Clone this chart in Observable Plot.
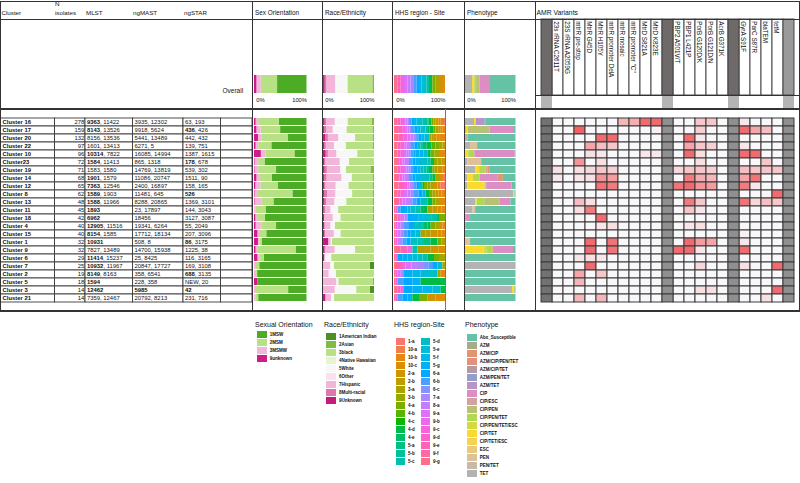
<!DOCTYPE html>
<html><head><meta charset="utf-8">
<script src="https://cdn.jsdelivr.net/npm/d3@7"></script>
<script src="https://cdn.jsdelivr.net/npm/@observablehq/plot@0.6"></script>
<style>
html,body{margin:0;padding:0;background:#fff;}
#root{position:relative;width:800px;height:483px;overflow:hidden;font-family:"Liberation Sans",Arial,sans-serif;color:#111;}
.lbl{position:absolute;white-space:nowrap;line-height:1;}
.ln{position:absolute;background:#333;}
</style></head><body><div id="root"></div>
<script>
// ---------------- DATA ----------------
const clusters = ["Cluster 16","Cluster 17","Cluster 20","Cluster 22","Cluster 10","Cluster23","Cluster 19","Cluster 14","Cluster 12","Cluster 8","Cluster 13","Cluster 11","Cluster 18","Cluster 4","Cluster 15","Cluster 1","Cluster 9","Cluster 6","Cluster 7","Cluster 2","Cluster 5","Cluster 3","Cluster 21"];
const nIsolates = [278,159,132,97,96,72,71,68,65,62,48,45,42,40,40,32,32,29,25,19,18,14,14];
const mlst = ["9363, 11422","8143, 13526","8156, 13536","1601, 13413","10314, 7822","1584, 11413","1583, 1580","1901, 1579","7363, 12546","1589, 1903","1588, 11966","1893","6962","12905, 11516","8154, 1585","10931","7827, 13489","11414, 15237","10932, 11967","8149, 8163","1594","12462","7359, 12467"];
const mlstBold = [1,1,0,0,1,1,0,1,1,1,1,1,1,1,1,1,0,1,1,1,1,1,0];
const ngmast = ["3935, 12302","9918, 5624","5441, 13489","6271, 5","16085, 14994","865, 1318","14769, 13819","11086, 20747","2400, 16897","11481, 645","8288, 20865","23, 17897","18456","19341, 6264","17712, 18134","508, 8","14700, 15938","25, 8425","20847, 17727","358, 6541","228, 358","5985","20792, 8213"];
const ngmastBold = [0,0,0,0,0,0,0,0,0,0,0,0,0,0,0,0,0,0,0,0,0,1,0];
const ngstar = ["63, 193","436, 426","442, 432","139, 751","1387, 1615","178, 678","539, 302","1511, 90","158, 165","526","1369, 3101","144, 3043","3127, 3087","55, 2049","207, 3096","86, 3175","1225, 38","116, 3165","169, 3108","688, 3135","NEW, 20","42","231, 716"];
const ngstarBold = [0,1,0,0,0,1,0,0,0,1,0,0,0,0,0,1,0,0,0,1,0,1,0];

// Sexual orientation (legend order)
const sexCats = ["1MSW","2MSM","3MSMW","9unknown"];
const sexMSW     = [.53,.5,.35,.67,.23,.8,.58,.66,.54,.27,.63,.78,.8,.58,.77,.85,.21,.81,.9,.94,.935,.35,.92];
const sexMSM     = [.39,.37,.5,.25,.55,.12,.34,.22,.33,.66,.23,.19,.13,.28,.14,.04,.72,.08,.08,.02,0,.63,.05];
const sexMSMW    = [.05,.08,.07,.05,.09,.07,.07,.07,.1,.065,.13,.03,.05,.11,.03,.03,.045,.045,.02,.04,0,.02,.03];
const sexUnknown = [.03,.045,.075,.03,.13,.01,.01,.045,.025,.01,.01,0,.025,.03,.065,.075,.03,.065,0,0,.065,0,0];
const sexOverall = [.56,.31,.084,.045];

// Race / ethnicity (legend order)
const raceCats = ["1American Indian","2Asian","3black","4Native Hawaiian","5White","6Other","7Hispanic","8Multi-racial","9Unknown"];
const raceAmInd    = [0,0,0,0,0,0,0,0,0,0,0,0,0,0,0,0,0,0,.08,0,0,.08,0];
const raceAsian    = [.05,.03,.03,.03,0,0,.07,.03,.03,.02,.03,.02,.03,.01,0,0,0,0,0,0,.03,0,0];
const raceBlack    = [.47,.51,.34,.53,.33,.49,.48,.41,.47,.41,.51,.68,.63,.76,.66,.83,.37,.84,.71,.75,.67,.27,.78];
const raceNH       = [0,0,0,0,0,0,0,0,0,0,0,0,0,0,0,0,0,0,0,0,0,0,0];
const raceWhite    = [.25,.27,.33,.23,.41,.18,.11,.2,.25,.33,.23,.15,.15,.085,.13,.02,.4,.12,.07,.14,.04,.42,.06];
const raceOther    = [0,0,0,0,0,0,0,0,0,0,0,0,0,0,0,0,0,0,0,0,0,0,0];
const raceHispanic = [.17,.125,.2,.16,.165,.28,.26,.29,.2,.16,.16,.1,.17,.12,.18,.05,.18,.02,.14,.11,.26,.23,.11];
const raceMulti    = [.03,.04,.05,.035,.045,.025,.045,.045,.025,.06,.03,.03,0,0,0,0,.015,0,0,0,0,0,0];
const raceUnknown  = [.03,.025,.045,.02,.05,.02,.03,.025,.02,.02,.03,.015,.02,.025,.03,.1,.03,.02,0,0,0,0,.045];
const raceOverall  = [0,.032,.49,0,.24,0,.174,.032,.032];

// HHS region - site (legend order)
const hhsCats = ["1-a","10-a","10-b","10-c","2-a","2-b","3-a","3-b","4-a","4-b","4-c","4-d","4-e","5-a","5-b","5-c","5-d","5-e","5-f","5-g","6-a","6-b","6-c","7-a","8-a","9-a","9-b","9-c","9-d","9-e","9-f","9-g"];
const hhsRows = [
 {"9-g":10,"9-e":10,"9-c":10,"9-a":5,"8-a":5,"7-a":5,"6-b":8,"6-a":7,"5-f":8,"5-e":7,"5-d":10,"5-c":8,"5-b":7,"4-e":4,"4-d":8,"4-a":6,"3-a":7,"2-a":8,"10-c":7,"10-b":10,"1-a":3},
 {"9-g":12,"9-e":12,"9-c":11,"9-a":5,"8-a":5,"7-a":5,"6-b":10,"6-a":10,"5-f":8,"5-e":7,"5-d":8,"5-c":7,"4-e":5,"4-d":10,"4-a":7,"3-a":8,"2-a":6,"10-c":6,"10-b":8},
 {"9-g":14,"9-e":13,"9-c":13,"9-a":9,"8-a":8,"7-a":8,"6-b":8,"6-a":7,"5-f":10,"5-e":10,"5-d":5,"3-a":5,"2-b":5,"2-a":10,"10-c":10,"10-b":15},
 {"9-g":10,"9-e":10,"9-c":10,"9-a":7,"8-a":7,"7-a":6,"6-b":10,"6-a":10,"5-d":8,"5-c":7,"4-e":10,"4-d":15,"4-b":12,"4-a":13,"3-a":8,"2-a":7},
 {"9-g":10,"9-e":10,"9-c":10,"9-a":7,"8-a":7,"7-a":6,"6-b":8,"6-a":7,"5-g":12,"5-f":12,"5-e":11,"4-d":10,"4-a":12,"3-a":13,"10-c":6,"10-b":12},
 {"9-g":9,"9-e":8,"9-c":8,"9-a":7,"8-a":7,"7-a":6,"6-b":10,"6-a":10,"5-f":13,"5-e":12,"5-d":10,"5-c":10,"4-d":10,"3-b":10,"3-a":12,"2-a":11},
 {"9-g":10,"9-e":10,"9-c":10,"9-a":7,"8-a":7,"7-a":6,"6-b":10,"6-a":10,"5-g":10,"5-d":9,"5-c":8,"5-b":8,"4-d":10,"4-a":7,"3-a":8,"2-a":8,"10-c":7,"10-b":8},
 {"9-g":9,"9-e":8,"9-c":8,"9-a":7,"8-a":7,"7-a":6,"6-b":10,"6-a":10,"5-f":13,"5-e":12,"5-d":9,"5-c":8,"5-b":8,"4-d":10,"3-a":10,"10-c":6,"10-b":6,"1-a":6},
 {"9-g":14,"9-e":13,"9-c":13,"9-a":7,"8-a":7,"7-a":6,"6-b":8,"6-a":7,"5-d":10,"4-d":5,"4-a":10,"3-b":10,"3-a":10,"2-a":10,"10-b":10,"1-a":13},
 {"9-g":10,"9-e":10,"9-c":10,"9-a":10,"8-a":10,"7-a":10,"6-b":13,"6-a":12,"5-f":10,"4-d":10,"4-a":10,"3-a":10,"2-a":9,"10-c":9,"10-b":10},
 {"9-g":9,"9-e":8,"9-c":8,"9-a":10,"8-a":10,"7-a":10,"6-b":13,"6-a":12,"5-d":10,"5-c":10,"4-d":15,"4-a":10,"3-a":10,"10-c":9,"10-b":9},
 {"9-g":5,"9-c":5,"6-b":10,"6-a":10,"5-g":10,"5-f":10,"5-d":15,"5-c":15,"4-e":10,"4-d":10,"3-a":15,"2-a":15,"10-c":12,"10-b":11},
 {"9-g":10,"9-c":10,"9-a":10,"7-a":10,"6-a":15,"5-g":15,"5-f":20,"5-d":20,"5-c":15,"4-d":8,"4-a":15},
 {"9-g":5,"9-c":5,"9-a":10,"7-a":10,"6-b":15,"6-a":15,"5-d":15,"5-c":15,"4-e":10,"4-d":10,"4-a":15,"3-a":10,"2-a":10,"10-b":8},
 {"9-g":5,"9-c":5,"9-a":10,"7-a":10,"6-b":10,"6-a":10,"5-f":15,"5-e":15,"3-a":15,"2-b":15,"2-a":20,"10-c":12,"10-b":11},
 {"9-g":5,"9-c":5,"9-a":8,"7-a":7,"6-b":12,"6-a":13,"5-d":20,"5-c":20,"5-a":20,"4-d":20,"4-a":12,"3-a":11},
 {"9-g":20,"9-e":20,"9-c":15,"5-c":15,"3-a":20,"2-b":20,"2-a":23,"10-c":20},
 {"9-g":5,"9-c":5,"6-a":15,"5-g":15,"5-f":15,"5-e":15,"5-d":15,"5-c":15,"4-d":20,"4-a":15,"3-a":18},
 {"9-g":12,"9-e":12,"9-c":11,"9-a":18,"8-a":19,"7-a":18,"6-c":13,"6-b":14,"6-a":13,"5-e":15,"3-a":8},
 {"9-g":5,"9-c":5,"9-a":10,"7-a":10,"5-g":25,"5-f":25,"5-e":25,"5-d":25,"3-a":10,"10-b":13},
 {"9-g":5,"9-c":5,"6-b":20,"6-a":25,"5-g":25,"4-d":73},
 {"9-g":10,"9-e":10,"9-c":10,"6-a":25,"5-g":30,"5-f":30,"5-e":25,"4-d":13},
 {"9-g":5,"9-c":5,"6-b":15,"6-a":15,"5-g":15,"4-d":20,"4-a":25,"2-a":25,"10-c":28}
];
const hhsOverall = {"9-g":10,"9-e":10,"9-c":10,"9-a":10,"8-a":10,"7-a":10,"6-b":8,"6-a":7,"5-f":8,"5-e":7,"5-d":8,"5-c":7,"4-d":10,"4-a":10,"3-a":10,"2-a":6,"10-c":6,"10-b":6};

// Phenotype (legend order)
const phenoCats = ["Abx_Susceptible","AZM","AZM/CIP","AZM/CIP/PEN/TET","AZM/CIP/TET","AZM/PEN/TET","AZM/TET","CIP","CIP/ESC","CIP/PEN","CIP/PEN/TET","CIP/PEN/TET/ESC","CIP/TET","CIP/TET/ESC","ESC","PEN","PEN/TET","TET"];
const phenoRows = [
 {"TET":18,"CIP/TET":3,"AZM/TET":17,"AZM/PEN/TET":3,"Abx_Susceptible":59},
 {"TET":2,"CIP/TET":3,"CIP/PEN":44,"CIP":48,"Abx_Susceptible":3},
 {"TET":5,"Abx_Susceptible":95},
 {"TET":10,"PEN":14,"Abx_Susceptible":76},
 {"CIP/TET":6.5,"CIP/PEN/TET":12,"CIP":80,"Abx_Susceptible":1.5},
 {"TET":5,"PEN":27,"Abx_Susceptible":68},
 {"TET":20,"CIP/TET":8,"CIP/PEN/TET":13,"CIP/ESC":4,"AZM/CIP":3,"Abx_Susceptible":52},
 {"TET":5,"CIP/TET":11,"CIP/PEN/TET":13,"CIP":36,"AZM/CIP":10,"Abx_Susceptible":25},
 {"TET":5,"CIP/TET":34,"CIP/PEN/TET":3,"CIP":50,"Abx_Susceptible":8},
 {"TET":96,"CIP/TET":2,"Abx_Susceptible":2},
 {"TET":20,"CIP/TET":3,"CIP/PEN/TET":15,"CIP/PEN":31,"CIP":21,"Abx_Susceptible":10},
 {"TET":15,"PEN":5,"Abx_Susceptible":80},
 {"TET":2,"CIP":8,"Abx_Susceptible":90},
 {"TET":2,"Abx_Susceptible":98},
 {"Abx_Susceptible":100},
 {"PEN":10,"Abx_Susceptible":90},
 {"CIP/TET":37,"CIP/PEN/TET/ESC":5,"CIP/PEN/TET":13,"CIP":40,"Abx_Susceptible":5},
 {"Abx_Susceptible":100},
 {"TET":99,"Abx_Susceptible":1},
 {"Abx_Susceptible":100},
 {"Abx_Susceptible":100},
 {"TET":93,"CIP/TET":5,"Abx_Susceptible":2},
 {"Abx_Susceptible":100}
];
const phenoOverall = {"TET":14,"CIP/TET":4.5,"CIP/PEN/TET":3.5,"CIP/PEN":6.5,"CIP":21,"Abx_Susceptible":50.5};

// AMR variants (share of isolates, 0-1)
const amrVariants = ["23s rRNA C2611T","23S rRNA A2059G","mtrR pre-stop","MtrR G45D","MtrR H105Y","mtrR promoter DelA","mtrR mosaic","mtrR promoter \"C\"","MtrD S821A","MtrD K823E","PBP2 A501V/T","PBP1 L421P","PorB G120D/K","PorB G121D/N","AcrB G371K","GyrA S91F","ParC S87R","blaTEM","tetM"];
const amrValues = [
 [0,0,0,0,0,0,.4,.45,.85,.85, 0,0,.3,.3,0, .1,0,0,0],
 [0,0,.9,0,0,0,0,0,0,.05, 0,0,.25,0,0, .85,.5,.35,0],
 [0,0,0,0,.85,.85,0,0,0,0, 0,.85,.1,0,0, 0,0,0,0],
 [0,0,0,.5,.35,.3,0,0,0,0, 0,.5,.3,.25,0, .1,0,0,0],
 [0,0,0,.15,.1,0,0,0,.1,.1, 0,.85,.15,0,0, .85,.85,0,0],
 [0,0,.6,0,.15,0,0,0,0,0, 0,0,.15,0,0, 0,0,.3,0],
 [.15,0,.15,.2,.3,.25,0,0,0,0, .2,.3,.3,.25,0, .35,.3,.3,.3],
 [.1,0,.1,.15,.6,.55,0,0,0,0, 0,.75,.45,.4,0, .5,.8,0,0],
 [0,0,0,0,.8,.75,0,0,0,0, .8,.85,.6,.55,0, .75,.1,0,0],
 [0,0,0,0,0,0,0,0,0,0, 0,0,0,0,0, 0,0,0,.85],
 [0,0,.35,.15,0,0,0,0,0,0, 0,.75,.3,0,0, .8,.2,.35,.3],
 [0,0,.15,.75,0,0,0,0,0,0, 0,.3,.1,0,0, 0,0,0,0],
 [0,0,0,0,.85,0,0,0,0,0, 0,0,0,0,0, 0,0,0,0],
 [0,0,0,0,.1,.15,0,0,0,0, 0,.1,.15,0,0, 0,0,0,0],
 [0,0,0,0,0,0,0,0,0,0, 0,0,0,0,0, .05,0,0,0],
 [0,0,0,.85,0,.8,0,0,0,0, 0,.85,.55,.5,0, .1,0,0,0],
 [0,0,0,.85,0,.8,0,0,0,0, .85,.85,.1,0,0, .85,0,0,0],
 [0,0,.1,.15,.1,0,0,0,0,0, 0,0,0,0,0, 0,0,0,0],
 [0,0,0,.85,0,0,0,0,0,0, 0,0,.2,0,0, .15,0,0,.85],
 [0,0,.5,0,.3,0,0,0,0,0, 0,0,0,0,0, 0,0,0,0],
 [0,0,.4,0,0,0,0,0,0,0, 0,0,0,0,0, 0,0,0,0],
 [0,0,0,0,0,0,0,0,0,0, 0,0,.15,.15,0, 0,0,0,.85],
 [0,0,.4,0,.4,0,0,0,0,0, 0,0,0,0,0, 0,0,.15,0]
];

// ---------------- COLOURS ----------------
const sexColors = ["#4dac26","#b8e186","#f1b6da","#d01c8b"];
const raceColors = ["#4d9221","#7fbc41","#b8e186","#e6f5d0","#f7f7f7","#fde0ef","#f1b6da","#de77ae","#c51b7d"];
function hueLuv(h, c = 100, L = 65) {
  const hr = h * Math.PI / 180, U = c * Math.cos(hr), V = c * Math.sin(hr);
  const Xn = 95.047, Yn = 100, Zn = 108.883, den = Xn + 15 * Yn + 3 * Zn;
  const un = 4 * Xn / den, vn = 9 * Yn / den;
  const Y = Yn * Math.pow((L + 16) / 116, 3);
  const u = U / (13 * L) + un, v = V / (13 * L) + vn;
  const X = 9 * Y * u / (4 * v), Z = Y * (12 - 3 * u - 20 * v) / (4 * v);
  const x = X / 100, y = Y / 100, z = Z / 100;
  const lin = [3.240479*x - 1.537150*y - 0.498535*z, -0.969256*x + 1.875992*y + 0.041556*z, 0.055648*x - 0.204043*y + 1.057311*z];
  const g = lin.map(t => { t = t <= 0.0031308 ? 12.92 * t : 1.055 * Math.pow(t, 1 / 2.4) - 0.055; return Math.round(Math.max(0, Math.min(1, t)) * 255); });
  return d3.rgb(g[0], g[1], g[2]).formatHex();
}
const hhsColors = hhsCats.map((_, i) => hueLuv(15 + 360 / hhsCats.length * i));
const set2 = ["#66c2a5","#fc8d62","#8da0cb","#e78ac3","#a6d854","#ffd92f","#e5c494","#b3b3b3"];
const ramp = d3.piecewise(d3.interpolateRgb, set2);
const phenoColors = phenoCats.map((_, i) => d3.rgb(ramp(i / (phenoCats.length - 1))).formatHex());

// ---------------- LAYOUT ----------------
const FONT = '"Liberation Sans", Arial, sans-serif';
const ST = {fontFamily: FONT, background: "transparent", overflow: "visible", color: "#111"};
const ROW_TOP = 109.3, ROW_H = 201.3;
const root = document.getElementById("root");
function put(el, left, top) { el.style.position = "absolute"; el.style.left = left + "px"; el.style.top = top + "px"; root.appendChild(el); return el; }
function label(text, left, baseline, size, bold) {
  const d = document.createElement("div"); d.className = "lbl"; d.textContent = text;
  d.style.fontSize = size + "px"; if (bold) d.style.fontWeight = "bold";
  return put(d, left, baseline - 0.85 * size);
}
function line(x, y, w, h, color) { const d = document.createElement("div"); d.className = "ln"; d.style.width = w + "px"; d.style.height = h + "px"; if (color) d.style.background = color; return put(d, x, y); }

const longSeries = (series, cats) => clusters.flatMap((c, i) => cats.map((k, j) => ({cluster: c, cat: k, value: series[j][i]})));
const longObjs = (objs) => clusters.flatMap((c, i) => Object.entries(objs[i]).map(([k, v]) => ({cluster: c, cat: k, value: v})));
const longOverallArr = (arr, cats) => cats.map((k, j) => ({cluster: "Overall", cat: k, value: arr[j]}));
const longOverallObj = (obj) => Object.entries(obj).map(([k, v]) => ({cluster: "Overall", cat: k, value: v}));

function stackPlot(data, cats, colors, w, h, yDomain, pIn, pOut, extra = [], mb = 0) {
  return Plot.plot({
    width: w, height: h, marginTop: 0, marginLeft: 0, marginRight: 0, marginBottom: mb, style: ST,
    x: {domain: [0, 1], axis: null},
    y: {domain: yDomain, axis: null, paddingInner: pIn, paddingOuter: pOut},
    color: {domain: cats, range: colors},
    marks: [Plot.barX(data, Plot.stackX({x: "value", y: "cluster", fill: "cat", order: cats.slice().reverse(), offset: "normalize"})), ...extra]
  });
}

const panels = [
  {title: "Sex Orientation", box: 252, bx: 253.5, bw: 52.5, cats: sexCats, colors: sexColors,
   rows: longSeries([sexMSW, sexMSM, sexMSMW, sexUnknown], sexCats), overall: longOverallArr(sexOverall, sexCats)},
  {title: "Race/Ethnicity", box: 322, bx: 323, bw: 51, cats: raceCats, colors: raceColors,
   rows: longSeries([raceAmInd, raceAsian, raceBlack, raceNH, raceWhite, raceOther, raceHispanic, raceMulti, raceUnknown], raceCats), overall: longOverallArr(raceOverall, raceCats)},
  {title: "HHS region - Site", box: 392, bx: 393.5, bw: 51, cats: hhsCats, colors: hhsColors,
   rows: longObjs(hhsRows), overall: longOverallObj(hhsOverall)},
  {title: "Phenotype", box: 464, bx: 465, bw: 50.5, cats: phenoCats, colors: phenoColors,
   rows: longObjs(phenoRows), overall: longOverallObj(phenoOverall)}
];

for (const p of panels) {
  label(p.title, p.box + 3, 15.6, 6.4);
  const pctLabels = [
    Plot.text([0], {x: d => d, text: () => "0%", frameAnchor: "bottom", textAnchor: "start", dx: 1.8, dy: 7.5, fontSize: 5.8}),
    Plot.text([1], {x: d => d, text: () => "100%", frameAnchor: "bottom", textAnchor: "end", dy: 7.5, fontSize: 5.8})
  ];
  put(stackPlot(p.overall, p.cats, p.colors, p.bw, 31, ["Overall"], 0, 0, pctLabels, 12.5), p.bx, 75);
  put(stackPlot(p.rows, p.cats, p.colors, p.bw, ROW_H, clusters, 0.13, 0.06), p.bx, ROW_TOP);
}

// ---------------- TABLE ----------------
const tableCols = [{x0: 0.5, x1: 54.5}, {x0: 54.5, x1: 85}, {x0: 85, x1: 132.5}, {x0: 132.5, x1: 183}, {x0: 183, x1: 220.5}, {x0: 220.5, x1: 252}];
const FS = 5.9;
const ctx = document.createElement("canvas").getContext("2d");
function tw(s, weight) { ctx.font = `${weight} ${FS}px ${FONT}`; return ctx.measureText(s).width; }
const tableRows = clusters.map((c, i) => ({cluster: c, n: nIsolates[i]}));
const splitCells = [];
[[mlst, mlstBold, 2], [ngmast, ngmastBold, 3], [ngstar, ngstarBold, 4]].forEach(([vals, bold, col]) => {
  vals.forEach((s, i) => {
    const first = s.split(",")[0];
    splitCells.push({cluster: clusters[i], x0: tableCols[col].x0, full: s, first, rest: s.slice(first.length), bold: !!bold[i]});
  });
});
const gridCells = clusters.flatMap(c => tableCols.map(col => ({cluster: c, x0: col.x0, x1: col.x1})));
const tablePlot = Plot.plot({
  width: 252, height: ROW_H, margin: 0, style: ST,
  x: {domain: [0, 252], range: [0, 252], axis: null},
  y: {domain: clusters, axis: null, padding: 0},
  marks: [
    Plot.barX(gridCells, {x1: "x0", x2: "x1", y: "cluster", fill: "#fff", stroke: "#3a3a3a", strokeWidth: 0.9}),
    Plot.text(tableRows, {x: () => tableCols[0].x0 + 1.5, y: "cluster", text: "cluster", textAnchor: "start", fontWeight: "bold", fontSize: FS}),
    Plot.text(tableRows, {x: () => tableCols[1].x1 - 1.2, y: "cluster", text: "n", textAnchor: "end", fontSize: FS}),
    Plot.text(splitCells.filter(d => d.bold), {x: d => d.x0 + 1.5, y: "cluster", text: "first", textAnchor: "start", fontWeight: "bold", fontSize: FS}),
    Plot.text(splitCells, {x: d => d.x0 + 1.5 + (d.bold ? tw(d.first, "bold") : 0), y: "cluster", text: d => d.bold ? d.rest : d.full, textAnchor: "start", fontSize: FS})
  ]
});
put(tablePlot, 0, ROW_TOP);
label("Cluster", 1.5, 15.6, 6.2);
label("N", 55, 6.2, 6.2);
label("isolates", 55, 15.2, 6.2);
label("MLST", 86, 15.6, 6.2);
label("ngMAST", 133, 15.6, 6.2);
label("ngSTAR", 184, 15.6, 6.2);
label("Overall", 222.5, 93.2, 6.5);

// ---------------- AMR ----------------
const amrDomain = ["g1", ...amrVariants.slice(0, 10), "g2", ...amrVariants.slice(10, 15), "g3", ...amrVariants.slice(15), "g4"];
const grays = ["g1", "g2", "g3", "g4"];
const amrLong = clusters.flatMap((c, i) => amrVariants.map((v, j) => ({cluster: c, variant: v, value: amrValues[i][j]})));
const grayLong = clusters.flatMap(c => grays.map(g => ({cluster: c, col: g})));
const xAmr = {type: "band", domain: amrDomain, padding: 0, axis: null};
put(Plot.plot({
  width: 265, height: ROW_H, margin: 0, style: ST,
  x: xAmr, y: {domain: clusters, axis: null, padding: 0},
  color: {type: "linear", domain: [0, 1], range: ["#f8f8fb", "#ee5257"]},
  marks: [
    Plot.cell(amrLong, {x: "variant", y: "cluster", fill: "value", stroke: "#3a3a3a", strokeWidth: 1}),
    Plot.cell(grayLong.filter(d => d.col === "g1"), {x: "col", y: "cluster", fill: "#727272", stroke: "#3a3a3a", strokeWidth: 1}),
    Plot.cell(grayLong.filter(d => d.col !== "g1"), {x: "col", y: "cluster", fill: "#8f8f8f", stroke: "#3a3a3a", strokeWidth: 1})
  ]
}), 535, ROW_TOP);
put(Plot.plot({
  width: 265, height: 76, margin: 0, style: ST, x: xAmr,
  marks: [
    Plot.cell(amrVariants, {x: d => d, fill: "#fff", stroke: "#3a3a3a", strokeWidth: 0.9}),
    Plot.cell(grays.slice(0, 3), {x: d => d, fill: "#6e6a6a", stroke: "#3a3a3a", strokeWidth: 0.9}),
    Plot.cell(grays.slice(3), {x: d => d, fill: "#9a9a9a", stroke: "#3a3a3a", strokeWidth: 0.9}),
    Plot.text(amrVariants, {x: d => d, text: d => d, rotate: 90, textAnchor: "start", frameAnchor: "top", dy: 1.8, fontSize: 6.3})
  ]
}), 535, 19);
put(Plot.plot({
  width: 265, height: 13.5, margin: 0, style: ST, x: xAmr,
  marks: [
    Plot.cell(amrVariants, {x: d => d, fill: "#fff"}),
    Plot.cell(grays, {x: d => d, fill: "#b4b4b4"})
  ]
}), 535, 95);
label("AMR Variants", 536.5, 15.6, 6.8);

// ---------------- FRAME LINES ----------------
line(0, 0.6, 800, 1);
line(0, 18.6, 800, 1);
line(535, 94.8, 265, 0.9);
line(0, 108.3, 800, 1.3);
line(0, 310.4, 800, 1.2);
[0, 252, 322, 392, 464, 534.5, 799].forEach(x => line(x, 0.6, 1, 311));
line(445, ROW_TOP, 0.8, ROW_H, "#777");

// ---------------- LEGENDS ----------------
function legendPlot(cats, colors, swW, step) {
  return Plot.plot({
    width: 70, height: cats.length * step, margin: 0, style: ST,
    x: {type: "band", domain: ["sw"], range: [0, swW], padding: 0, axis: null},
    y: {type: "band", domain: cats, padding: 0.07, axis: null},
    color: {domain: cats, range: colors},
    marks: [
      Plot.cell(cats, {x: () => "sw", y: d => d, fill: d => d}),
      Plot.text(cats, {x: () => "sw", y: d => d, text: d => d, textAnchor: "start", dx: swW / 2 + 2.2, fontSize: 4.5, fontWeight: "bold"})
    ]
  });
}
label("Sexual Orientation", 255, 327, 7);
put(legendPlot(sexCats, sexColors, 10, 8.4), 256.7, 330);
label("Race/Ethnicity", 324, 327, 7);
put(legendPlot(raceCats, raceColors, 10.7, 8.5), 326, 330);
label("HHS region-Site", 394, 327, 7);
put(legendPlot(hhsCats.slice(0, 16), hhsColors.slice(0, 16), 9.5, 9.0), 396, 330);
put(legendPlot(hhsCats.slice(16), hhsColors.slice(16), 9.5, 9.0), 420.5, 330);
label("Phenotype", 465, 327, 7);
put(legendPlot(phenoCats, phenoColors, 10, 8.56), 467.3, 329);
</script></body></html>
